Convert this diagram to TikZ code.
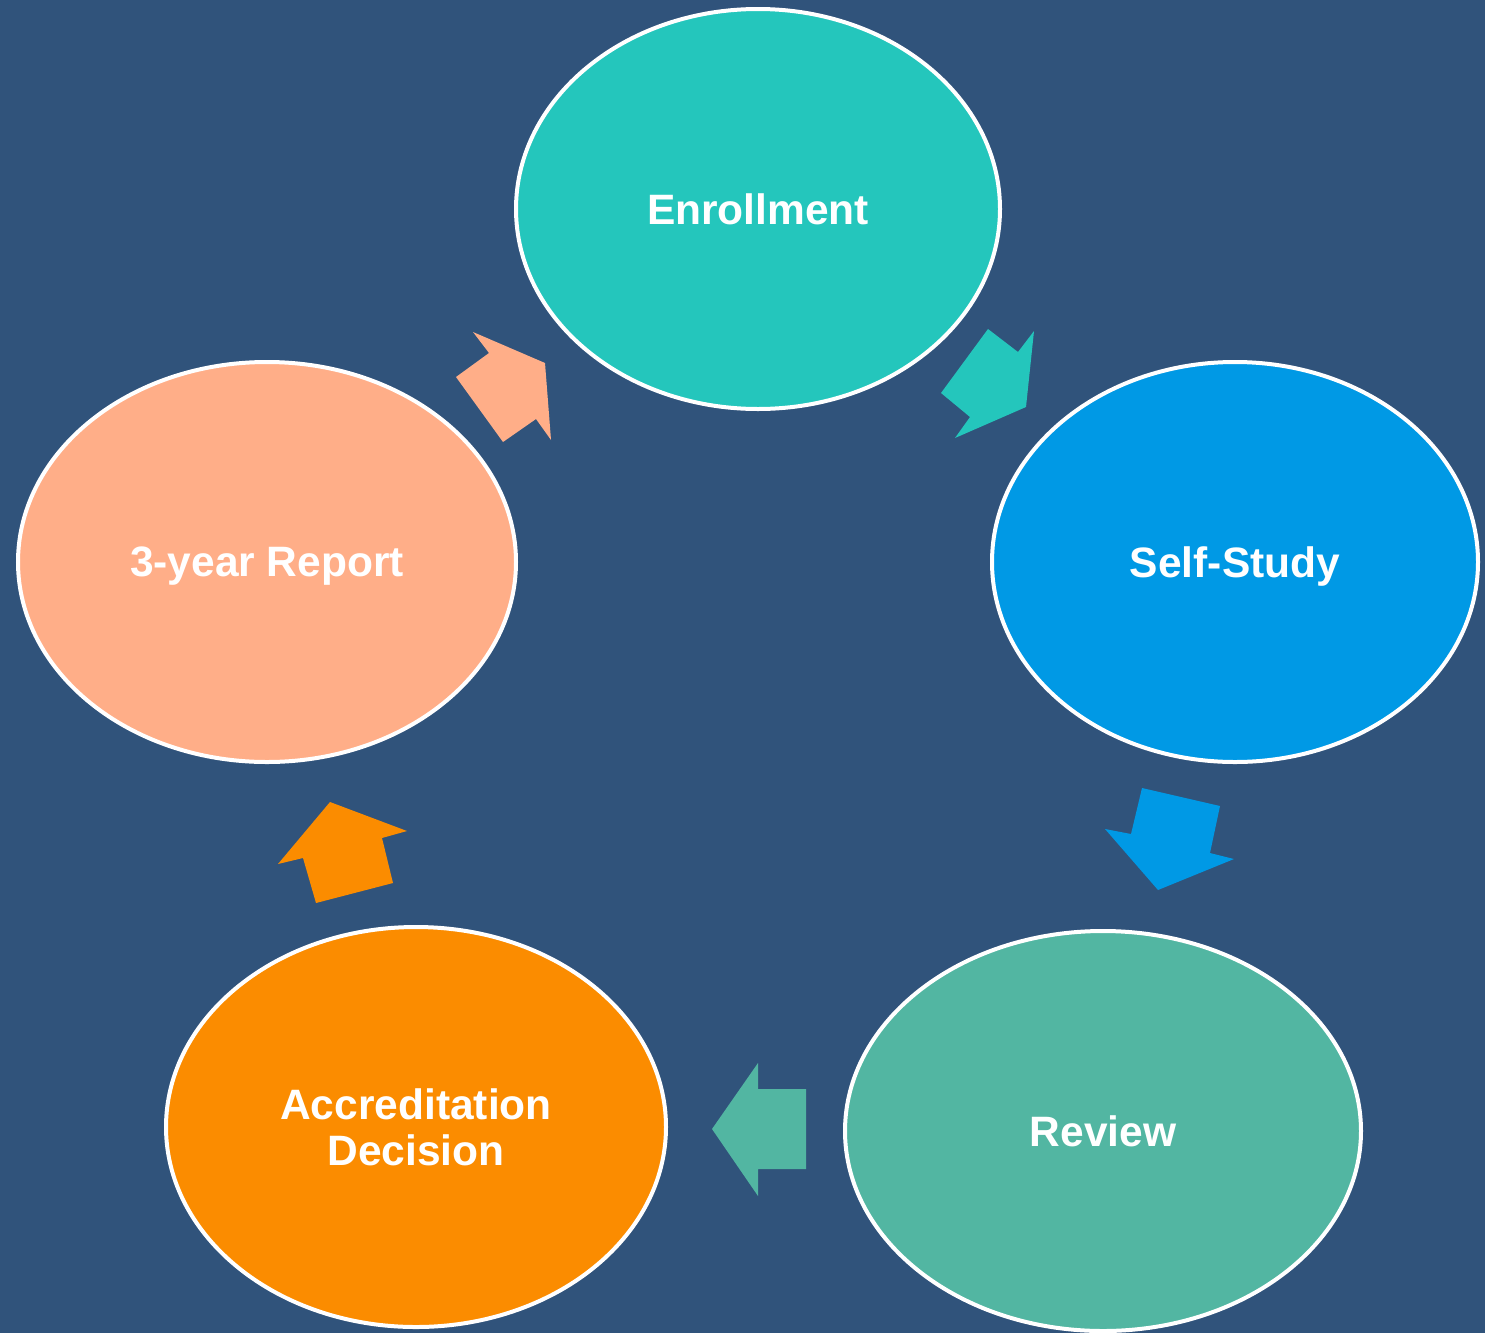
\documentclass[tikz,border=0pt]{standalone}
\usepackage{fontspec}
\setmainfont{Liberation Sans}
\usetikzlibrary{shapes.geometric}
\definecolor{bg}{HTML}{30537B}
\definecolor{cEnr}{HTML}{24C6BC}
\definecolor{cSelf}{HTML}{0099E5}
\definecolor{cRev}{HTML}{52B6A2}
\definecolor{cAcc}{HTML}{FB8C00}
\definecolor{cRep}{HTML}{FFAE88}
\tikzset{
  stage/.style={ellipse, draw=white, line width=4pt, text=white,
    font=\fontsize{42.5}{46}\selectfont\bfseries, align=center, inner sep=0pt, text depth=0pt},
  blockarrow/.style={draw=none}
}
\begin{document}
\begin{tikzpicture}[x=1pt,y=-1pt]
\fill[bg] (0,0) rectangle (1485,1333);
\useasboundingbox (0,0) rectangle (1485,1333);
\node[stage, fill=cEnr, minimum width=484pt, minimum height=400pt] (enr) at (758,209) {Enrollment};
\node[stage, fill=cSelf, minimum width=486pt, minimum height=400pt] (self) at (1235,562) {Self-Study};
\node[stage, fill=cRev, minimum width=516pt, minimum height=400pt] (rev) at (1103,1131) {Review};
\node[stage, fill=cAcc, minimum width=500pt, minimum height=400pt] (acc) at (416,1127) {Accreditation\\Decision};
\node[stage, fill=cRep, minimum width=498pt, minimum height=400pt] (rep) at (267,562) {3-year Report};
% block arrows
\fill[cRep] (545,363) -- (473,332) -- (489,353) -- (456,377) -- (503,442) -- (536,419) -- (551,440) -- cycle;
\fill[cEnr] (988,329) -- (1018,352) -- (1034,331) -- (1026,407) -- (955,438) -- (970,417) -- (941,393) -- cycle;
\fill[cSelf] (1142,788) -- (1220,806) -- (1210,853) -- (1234,859) -- (1158,890) -- (1105,829) -- (1131,834) -- cycle;
\fill[cRev] (758,1063) -- (758,1089) -- (806,1089) -- (806,1169) -- (758,1169) -- (758,1196) -- (712,1129) -- cycle;
\fill[cAcc] (330,802) -- (407,831) -- (382,838) -- (393,883) -- (316,903) -- (303,858) -- (278,864) -- cycle;
\end{tikzpicture}
\end{document}
